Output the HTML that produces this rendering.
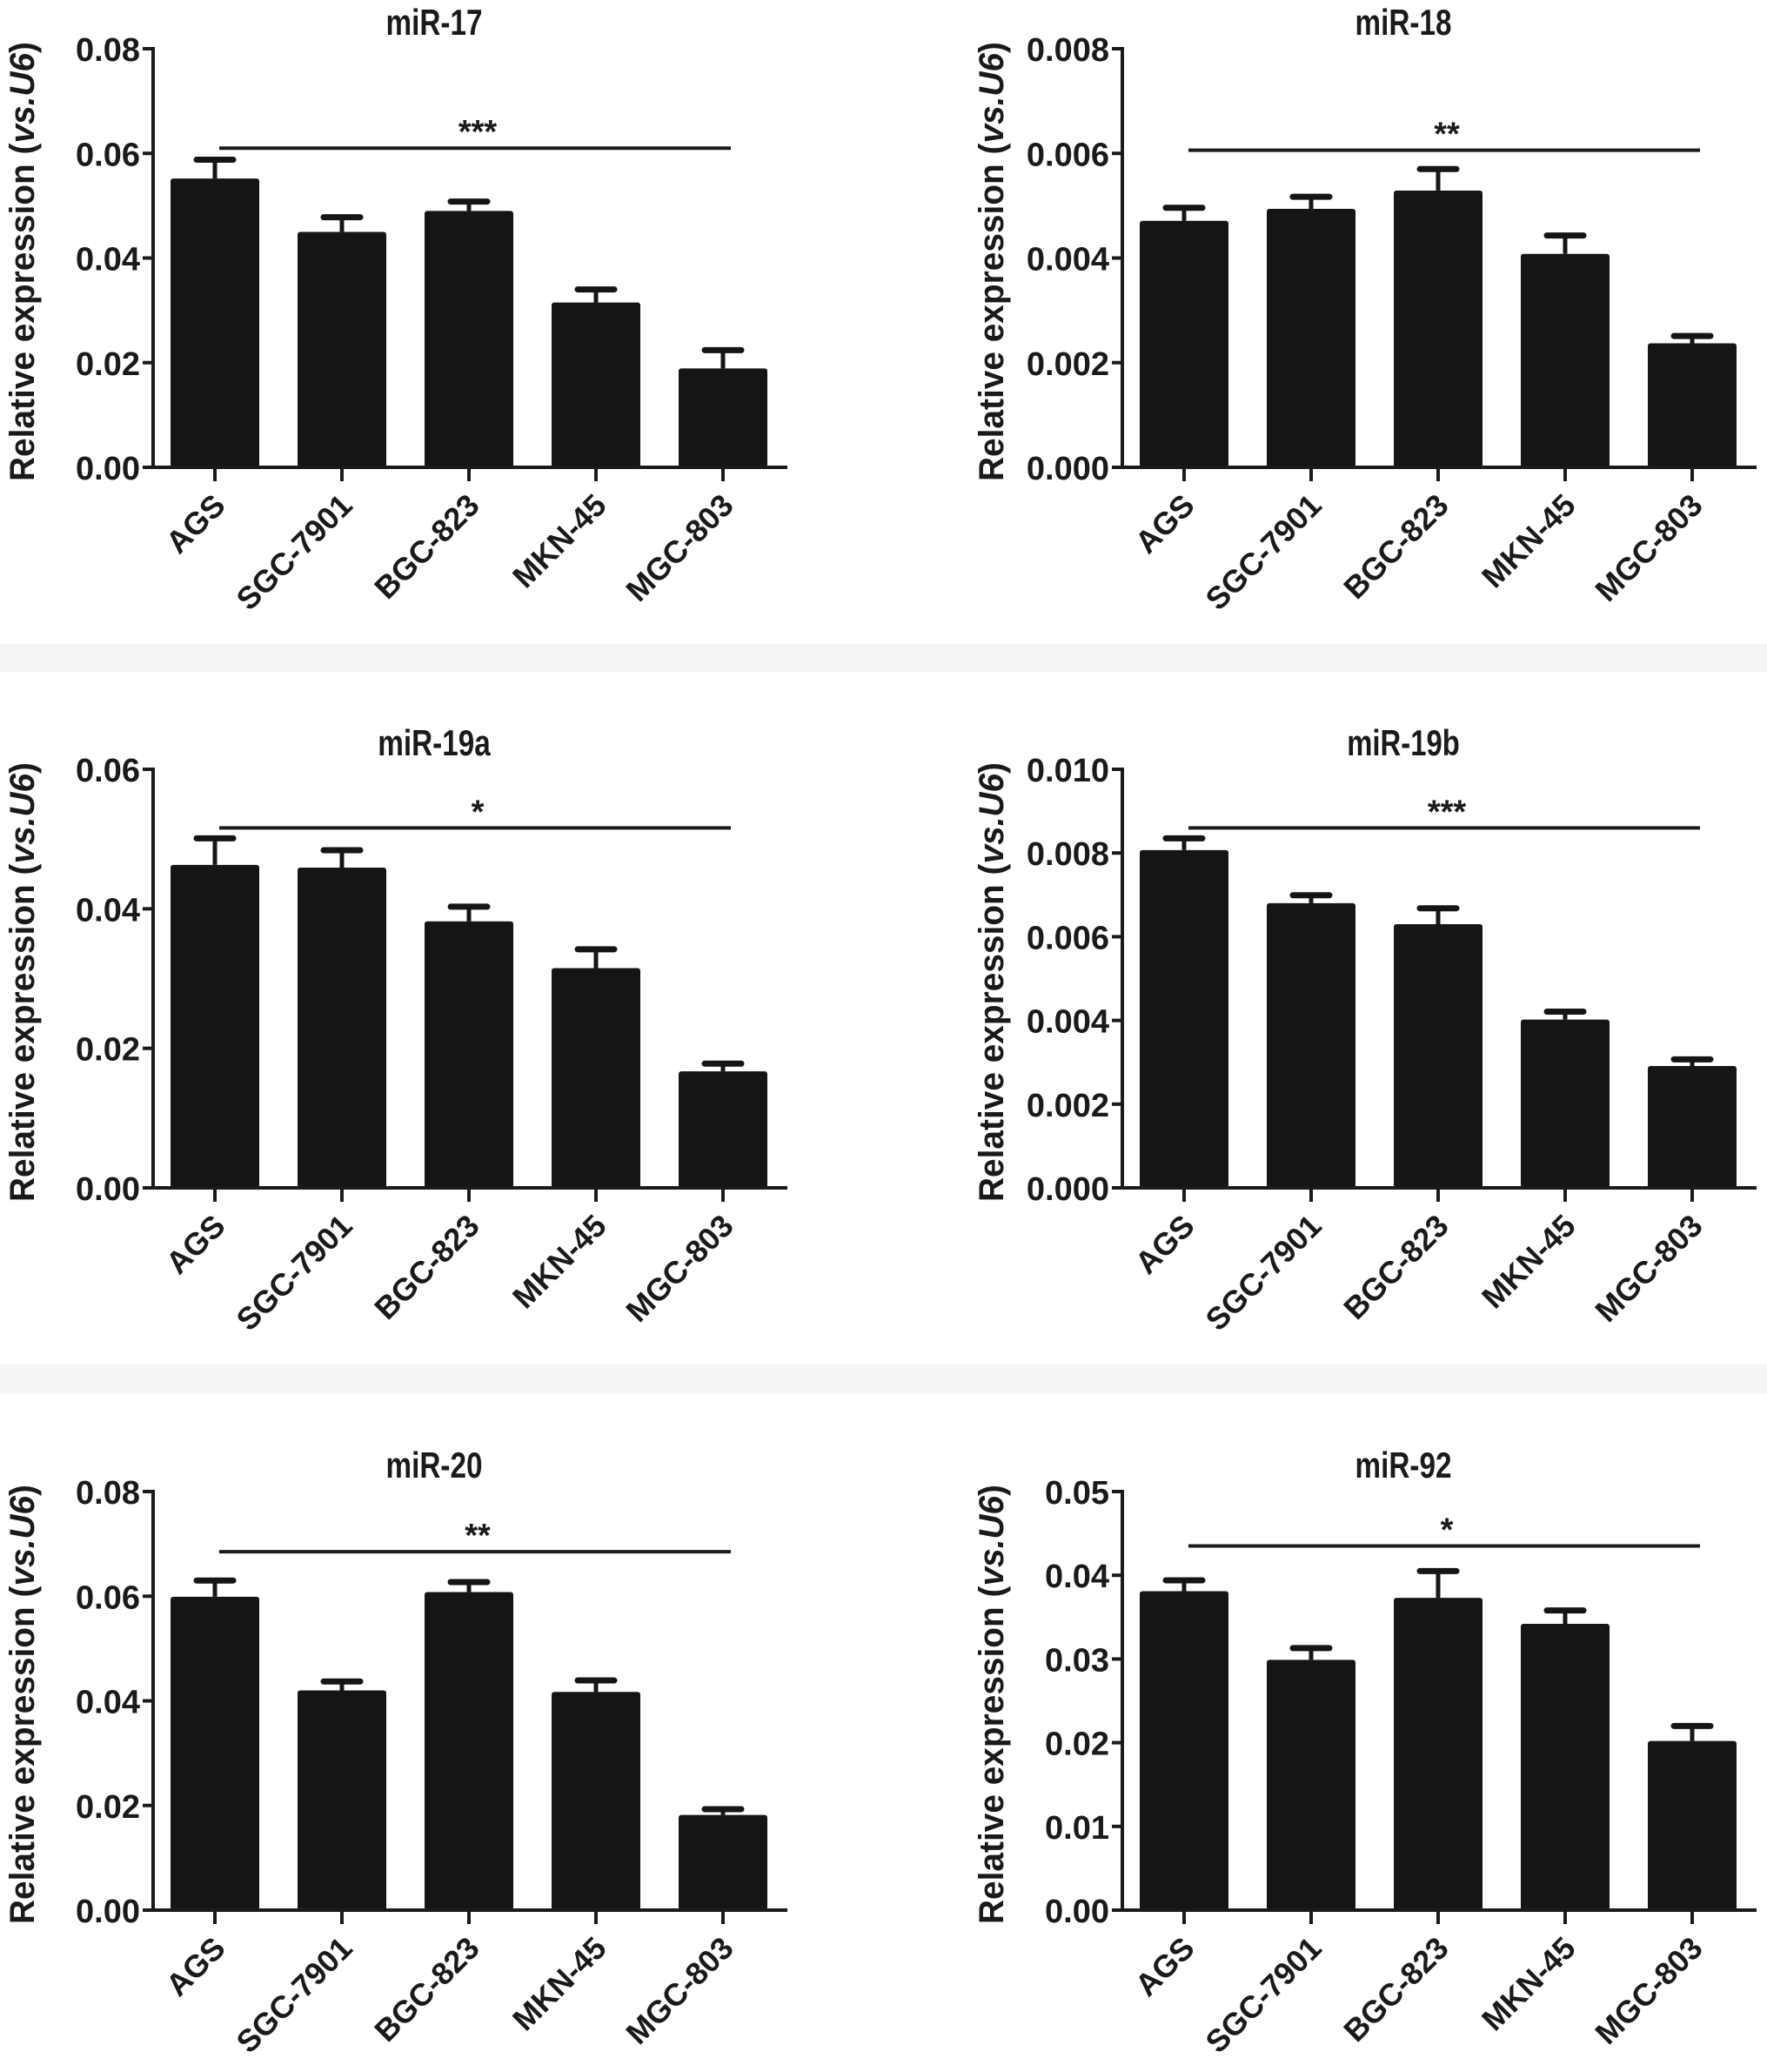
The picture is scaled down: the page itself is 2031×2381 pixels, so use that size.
<!DOCTYPE html>
<html><head><meta charset="utf-8"><style>
html,body{margin:0;padding:0;background:#fff;}
svg{display:block;}
text{font-family:"Liberation Sans",Arial,sans-serif;font-weight:bold;fill:#1a1a1a;}
</style></head><body>
<svg id="fig" width="2031" height="2381" viewBox="0 0 2031 2381" xmlns="http://www.w3.org/2000/svg">
<rect x="0" y="0" width="2031" height="2381" fill="#fff"/>
<rect x="0" y="740" width="2031" height="32" fill="#f5f5f5"/>
<rect x="0" y="1568" width="2031" height="34" fill="#f5f5f5"/>
</svg>
<script>
const categories = ["AGS","SGC-7901","BGC-823","MKN-45","MGC-803"];
const titles = ["miR-17","miR-18","miR-19a","miR-19b","miR-20","miR-92"];
const yMax = [0.08,0.008,0.06,0.010,0.08,0.05];
const yStep = [0.02,0.002,0.02,0.002,0.02,0.01];
const tickDecimals = [2,3,2,3,2,2];
const means17 = [0.0552,0.0450,0.0490,0.0315,0.0189];
const err17 = [0.0588,0.0478,0.0508,0.0340,0.0224];
const means18 = [0.00471,0.00494,0.00529,0.00408,0.00237];
const err18 = [0.00496,0.00517,0.00570,0.00443,0.00251];
const means19a = [0.0463,0.0459,0.0382,0.0315,0.0167];
const err19a = [0.0501,0.0484,0.0403,0.0342,0.0178];
const means19b = [0.00807,0.00680,0.00630,0.00402,0.00291];
const err19b = [0.00835,0.00699,0.00668,0.00421,0.00307];
const means20 = [0.0599,0.0420,0.0608,0.0417,0.0182];
const err20 = [0.0630,0.0437,0.0627,0.0439,0.0193];
const means92 = [0.0381,0.0299,0.0373,0.0342,0.0202];
const err92 = [0.0394,0.0313,0.0405,0.0358,0.0220];
const sigLevel = [0.0610,0.00606,0.0516,0.0086,0.0685,0.0435];
const sigStars = ["***","**","*","***","**","*"];

const allMeans=[means17,means18,means19a,means19b,means20,means92];
const allErr=[err17,err18,err19a,err19b,err20,err92];
const NS="http://www.w3.org/2000/svg";
const svg=document.getElementById('fig');
function mk(tag,attrs,parent){const e=document.createElementNS(NS,tag);for(const k in attrs)e.setAttribute(k,attrs[k]);(parent||svg).appendChild(e);return e;}

const colX=[176,1290], rowTop=[56,884,1714], H=481, axisLen=729, firstOff=71, stepX=146, barHalf=51;
for(let p=0;p<6;p++){
  const ax=colX[p%2], top=rowTop[Math.floor(p/2)], zero=top+H;
  const g=mk('g',{});
  
  
  const y=v=>zero-(v/yMax[p])*H;
  const x=i=>ax+firstOff+i*stepX;
  const t=mk('text',{x:ax+323,y:top-16,'font-size':42,'text-anchor':'middle',textLength:titles[p].length*18.5,lengthAdjust:'spacingAndGlyphs'},g);
  t.textContent=titles[p];
  
  
  const yl=mk('text',{x:0,y:0,'font-size':40,'text-anchor':'middle',textLength:505,lengthAdjust:'spacingAndGlyphs',transform:`translate(${ax-137},${top+H/2+4}) rotate(-90)`},g);
  
  
  yl.innerHTML='Relative expression (<tspan font-style="italic">vs.</tspan><tspan font-style="italic">U6</tspan>)';
  for(let i=0;i<5;i++){
    const m=allMeans[p][i], e=allErr[p][i];
    const el=mk('line',{x1:x(i),x2:x(i),y1:y(m),y2:y(e),stroke:'#151515','stroke-width':5},g);
    
    
    const cap=mk('line',{x1:x(i)-21,x2:x(i)+21,y1:y(e),y2:y(e),stroke:'#151515','stroke-width':7,'stroke-linecap':'round'},g);
    
    
    const b=mk('rect',{x:x(i)-barHalf,y:y(m),width:barHalf*2,height:zero-y(m),fill:'#151515',rx:3},g);
    
    
    const tk=mk('line',{x1:x(i),x2:x(i),y1:zero,y2:zero+16,stroke:'#1a1a1a','stroke-width':4},g);
    
    
    const lb=mk('text',{x:0,y:0,'font-size':36,'text-anchor':'end',transform:`translate(${x(i)+14},${zero+46}) rotate(-45)`},g);
    lb.textContent=categories[i];
    
    
  }
  const ya=mk('line',{x1:ax,x2:ax,y1:top-2,y2:zero+2,stroke:'#1a1a1a','stroke-width':4},g);
  
  
  const xa=mk('line',{x1:ax-12,x2:ax+axisLen,y1:zero,y2:zero,stroke:'#1a1a1a','stroke-width':4},g);
  
  
  const n=Math.round(yMax[p]/yStep[p]);
  for(let k=0;k<=n;k++){
    const v=k*yStep[p];
    const tk=mk('line',{x1:ax-12,x2:ax,y1:y(v),y2:y(v),stroke:'#1a1a1a','stroke-width':4},g);
    
    
    const tl=mk('text',{x:ax-15,y:y(v)+14,'font-size':38,'text-anchor':'end'},g);
    tl.textContent=v.toFixed(tickDecimals[p]);
    
    
  }
  const sl=mk('line',{x1:x(0)+5,x2:x(4)+9,y1:y(sigLevel[p]),y2:y(sigLevel[p]),stroke:'#1a1a1a','stroke-width':4},g);
  
  
  const st=mk('text',{x:(x(0)+x(4))/2+10,y:y(sigLevel[p])-6,'font-size':38,'text-anchor':'middle'},g);
  st.textContent=sigStars[p];
  
  
}
</script>
</body></html>
